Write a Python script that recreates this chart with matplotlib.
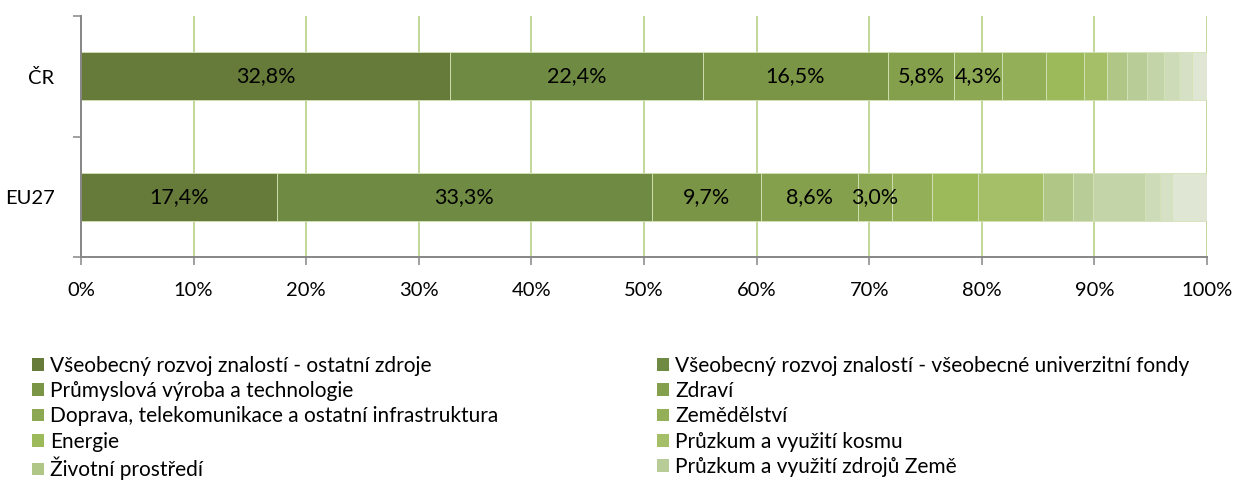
"""
GBAORD podle socioekonomických cílů: ČR vs. EU27
"""

import numpy as np
import matplotlib
matplotlib.use("Agg")
import matplotlib.pyplot as plt
from matplotlib.patches import Patch


# DATA

regions = ["ČR", "EU27"]

series_names = [
    "Všeobecný rozvoj znalostí - ostatní zdroje",
    "Všeobecný rozvoj znalostí - všeobecné univerzitní fondy",
    "Průmyslová výroba a technologie",
    "Zdraví",
    "Doprava, telekomunikace a ostatní infrastruktura",
    "Zemědělství",
    "Energie",
    "Průzkum a využití kosmu",
    "Životní prostředí",
    "Průzkum a využití zdrojů Země",
    "Vzdělávání",
    "Politické a sociální systémy, struktury a procesy",
    "Kultura, rekreace, náboženství a masmédia",
    "Obrana",
]

# podíly v % (ČR, EU27)
share_cr = [32.8, 22.4, 16.5, 5.8, 4.3, 3.9, 3.4, 2.0, 1.8, 1.8, 1.5, 1.3, 1.2, 1.3]
share_eu = [17.4, 33.3, 9.7, 8.6, 3.0, 3.6, 4.1, 5.7, 2.7, 1.8, 4.6, 1.3, 1.1, 3.1]

colors = [
    "#667b3a", "#6f8a42", "#7b9546", "#84a04c", "#8da853", "#93af58", "#9cba5a",
    "#a4bf67", "#afc686", "#b8cc98", "#c3d4a8", "#cedbb8", "#d6e0c5", "#dfe6d3",
]

N_LABELED = 5
N_LEGEND = 10   # zbytek legendy je v originále oříznutý


# PLOT

plt.rcParams["font.family"] = ["Lato", "DejaVu Sans"]
FS = 14.5
FS_LAB = 15.5
FS_LEG = 15

fig = plt.figure(figsize=(12.38, 4.82), dpi=100)
ax = fig.add_axes([0.0654, 0.4668, 0.9096, 0.5])

y = np.arange(len(regions))
data = np.array([share_cr, share_eu])
left = np.zeros(len(regions))

handles = []
for i, name in enumerate(series_names):
    vals = data[:, i]
    bars = ax.barh(y, vals, left=left, height=0.4, color=colors[i],
                   edgecolor="#d4e2b6", linewidth=0.6, zorder=3, label=name)
    if i < N_LABELED:
        ax.bar_label(bars, labels=[f"{v:.1f}%".replace(".", ",") for v in vals],
                     label_type="center", fontsize=FS_LAB, color="black", zorder=4)
    handles.append(Patch(facecolor=colors[i], edgecolor="none", label=name))
    left += vals

ax.set_xlim(0, 100)
ax.set_ylim(1.5, -0.5)
ax.set_xticks(range(0, 101, 10))
ax.set_xticklabels([f"{v}%" for v in range(0, 101, 10)], fontsize=FS)
ax.set_yticks(y)
ax.set_yticklabels(regions, fontsize=FS)
ax.set_yticks([-0.5, 0.5, 1.5], minor=True)
ax.tick_params(axis="y", which="major", length=0, pad=19)
ax.tick_params(axis="y", which="minor", length=6, color="#868686", width=1.1)
ax.tick_params(axis="x", length=6, color="#868686", width=1.1, pad=12)

ax.grid(axis="x", color="#c3d69b", linewidth=1.4, zorder=0)
ax.set_axisbelow(True)
for s in ["top", "right"]:
    ax.spines[s].set_visible(False)
for s in ["left", "bottom"]:
    ax.spines[s].set_color("#868686")
    ax.spines[s].set_linewidth(1.4)
    ax.spines[s].set_zorder(5)

# legenda: dva sloupce, řazení po řádcích
leg_handles = handles[:N_LEGEND]
leg_kw = dict(loc="upper left", frameon=False, fontsize=FS_LEG, handlelength=0.57,
              handleheight=0.57, handletextpad=0.3, labelspacing=0.25,
              borderpad=0, borderaxespad=0)
fig.legend(handles=leg_handles[0::2], bbox_to_anchor=(32 / 1238, 1 - 356 / 482), **leg_kw)
fig.legend(handles=leg_handles[1::2], bbox_to_anchor=(657 / 1238, 1 - 356 / 482), **leg_kw)

fig.savefig("out.png", dpi=100)
